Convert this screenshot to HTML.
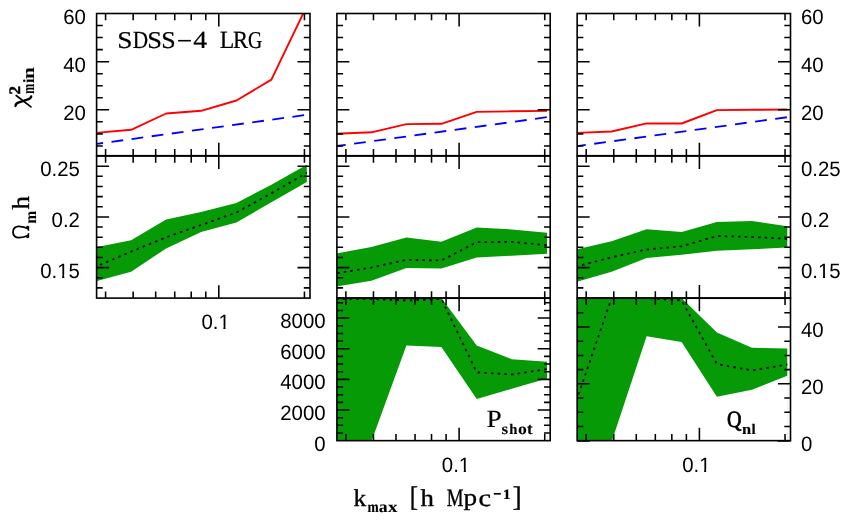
<!DOCTYPE html>
<html>
<head>
<meta charset="utf-8">
<title>SDSS-4 LRG</title>
<style>
html,body{margin:0;padding:0;background:#ffffff;}
body{width:845px;height:522px;overflow:hidden;font-family:"Liberation Sans",sans-serif;}
svg{display:block;will-change:transform;}
text{fill:#000;text-rendering:geometricPrecision;}
</style>
</head>
<body>
<svg width="845" height="522" viewBox="0 0 845 522">
<title>SDSS-4 LRG: chi-squared, Omega_m h, P_shot and Q_nl versus k_max</title>
<desc>3x3 panel figure. Rows: minimum chi-squared (red) with degrees of freedom (blue dashed); Omega_m h constraint band; P_shot and Q_nl constraint bands. x axis: k_max [h Mpc^-1].</desc>
<rect x="0" y="0" width="845" height="522" fill="#ffffff"/>
<defs>
<clipPath id="c00"><rect x="96.6" y="13.5" width="213.4" height="142.35"/></clipPath>
<clipPath id="c01"><rect x="96.6" y="155.85" width="213.4" height="142.25"/></clipPath>
<clipPath id="c02"><rect x="96.6" y="298.1" width="213.4" height="142.55"/></clipPath>
<clipPath id="c10"><rect x="336.9" y="13.5" width="213.3" height="142.35"/></clipPath>
<clipPath id="c11"><rect x="336.9" y="155.85" width="213.3" height="142.25"/></clipPath>
<clipPath id="c12"><rect x="336.9" y="298.1" width="213.3" height="142.55"/></clipPath>
<clipPath id="c20"><rect x="577.15" y="13.5" width="213.35" height="142.35"/></clipPath>
<clipPath id="c21"><rect x="577.15" y="155.85" width="213.35" height="142.25"/></clipPath>
<clipPath id="c22"><rect x="577.15" y="298.1" width="213.35" height="142.55"/></clipPath>
</defs>
<g clip-path="url(#c12)">
<polygon points="336.3,290 371.4,290 406.4,290 441.4,298 476.7,345.5 511.7,359.2 547.1,361.7 547.1,378.6 511.7,388.8 476.7,399 441.4,347 406.4,345.4 371.4,441.5 336.3,445" fill="#069a06"/>
<polyline points="336.3,299 371.4,298.9 406.4,300.5 441.4,299 476.7,372.3 511.7,374.5 547.1,369.1" fill="none" stroke="#000" stroke-width="1.8" stroke-dasharray="2.5 4.2" stroke-dashoffset="0.2"/>
</g>
<g clip-path="url(#c22)">
<polygon points="576.5,290 611.6,290 646.6,290 681.6,298 716.9,332.5 751.9,347.7 787.3,348.4 787.3,375.7 751.9,389.7 716.9,396.8 681.6,342 646.6,336.2 611.6,442 576.5,445" fill="#069a06"/>
<polyline points="576.5,400.5 611.6,298 646.6,298 681.6,300.5 716.9,364 751.9,370.5 787.3,364.5" fill="none" stroke="#000" stroke-width="1.8" stroke-dasharray="2.5 4.2" stroke-dashoffset="0.2"/>
</g>
<g clip-path="url(#c01)">
<polygon points="96,247.2 131.1,240.3 166.1,219.5 201.1,212 236.4,203 271.4,184.8 306.8,164.7 306.8,182 271.4,202.2 236.4,222.5 201.1,232 166.1,248.4 131.1,271.8 96,281.2" fill="#069a06"/>
<polyline points="96,266.6 131.1,251.6 166.1,237.3 201.1,225 236.4,212.5 271.4,193.4 306.8,172.8" fill="none" stroke="#000" stroke-width="1.8" stroke-dasharray="2.5 4.15" stroke-dashoffset="-4.2"/>
</g>
<g clip-path="url(#c11)">
<polygon points="336.3,253.5 371.4,247 406.4,237.5 441.4,241.8 476.7,227.4 511.7,229.4 547.1,232.7 547.1,253.7 511.7,255.7 476.7,257.6 441.4,268.4 406.4,268 371.4,280.8 336.3,286.5" fill="#069a06"/>
<polyline points="336.3,273.3 371.4,267.6 406.4,259.8 441.4,260.5 476.7,242.2 511.7,241.9 547.1,245.2" fill="none" stroke="#000" stroke-width="1.8" stroke-dasharray="2.5 4.15" stroke-dashoffset="-1.0"/>
</g>
<g clip-path="url(#c21)">
<polygon points="576.5,249.3 611.6,241.3 646.6,229.2 681.6,231.9 716.9,222 751.9,220.9 787.3,226.3 787.3,247.6 751.9,249.3 716.9,250.7 681.6,254.8 646.6,258 611.6,271.8 576.5,281.8" fill="#069a06"/>
<polyline points="576.5,266.5 611.6,257.3 646.6,249.5 681.6,246.3 716.9,236 751.9,237 787.3,238.8" fill="none" stroke="#000" stroke-width="1.8" stroke-dasharray="2.5 4.15" stroke-dashoffset="-5.65"/>
</g>
<line x1="307.3" y1="182" x2="307.3" y2="298.1" stroke="#069a06" stroke-width="0.5" opacity="0.2"/>
<line x1="547.6" y1="253.7" x2="547.6" y2="298.1" stroke="#069a06" stroke-width="0.5" opacity="0.2"/>
<line x1="787.8" y1="247.6" x2="787.8" y2="298.1" stroke="#069a06" stroke-width="0.5" opacity="0.2"/>
<line x1="547.6" y1="378.6" x2="547.6" y2="440.65" stroke="#069a06" stroke-width="0.5" opacity="0.2"/>
<line x1="787.8" y1="375.7" x2="787.8" y2="440.65" stroke="#069a06" stroke-width="0.5" opacity="0.2"/>
<g clip-path="url(#c00)">
<polyline points="96,132.9 131.1,129.8 166.1,113.5 201.1,110.8 236.4,100.5 271.4,79.6 306.8,6" fill="none" stroke="#ff0000" stroke-width="1.9" stroke-linejoin="round"/>
<line x1="96.9" y1="143.85" x2="307.2" y2="114.75" stroke="#0000ff" stroke-width="1.85" stroke-dasharray="11.8 8.5" stroke-dashoffset="5.6"/>
</g>
<g clip-path="url(#c10)">
<polyline points="336.3,133.8 371.4,132.3 406.4,124.1 441.4,123.8 476.7,111.9 511.7,111.3 547.1,110.9" fill="none" stroke="#ff0000" stroke-width="1.9" stroke-linejoin="round"/>
<line x1="337.2" y1="146" x2="547.5" y2="117.1" stroke="#0000ff" stroke-width="1.85" stroke-dasharray="11.8 8.5" stroke-dashoffset="3.25"/>
</g>
<g clip-path="url(#c20)">
<polyline points="576.5,132.9 611.6,131.5 646.6,123.4 681.6,123.5 716.9,110.1 751.9,109.8 787.3,109.5" fill="none" stroke="#ff0000" stroke-width="1.9" stroke-linejoin="round"/>
<line x1="577.4" y1="146.05" x2="787.7" y2="117.15" stroke="#0000ff" stroke-width="1.85" stroke-dasharray="11.8 8.5" stroke-dashoffset="3.35"/>
</g>
<path d="M105.59 13.5L105.59 20.15M105.59 155.7L105.59 149.05M133.16 13.5L133.16 20.15M133.16 155.7L133.16 149.05M155.68 13.5L155.68 20.15M155.68 155.7L155.68 149.05M174.73 13.5L174.73 20.15M174.73 155.7L174.73 149.05M191.23 13.5L191.23 20.15M191.23 155.7L191.23 149.05M205.78 13.5L205.78 20.15M205.78 155.7L205.78 149.05M304.44 13.5L304.44 20.15M304.44 155.7L304.44 149.05M218.8 13.5L218.8 26.45M218.8 155.7L218.8 142.75M96.6 145.91L102.8 145.91M310 145.91L303.8 145.91M96.6 133.88L102.8 133.88M310 133.88L303.8 133.88M96.6 121.84L102.8 121.84M310 121.84L303.8 121.84M96.6 109.8L109.1 109.8M310 109.8L297.5 109.8M96.6 97.76L102.8 97.76M310 97.76L303.8 97.76M96.6 85.73L102.8 85.73M310 85.73L303.8 85.73M96.6 73.69L102.8 73.69M310 73.69L303.8 73.69M96.6 61.65L109.1 61.65M310 61.65L297.5 61.65M96.6 49.61L102.8 49.61M310 49.61L303.8 49.61M96.6 37.58L102.8 37.58M310 37.58L303.8 37.58M96.6 25.54L102.8 25.54M310 25.54L303.8 25.54M105.59 156L105.59 162.65M105.59 298.1L105.59 291.45M133.16 156L133.16 162.65M133.16 298.1L133.16 291.45M155.68 156L155.68 162.65M155.68 298.1L155.68 291.45M174.73 156L174.73 162.65M174.73 298.1L174.73 291.45M191.23 156L191.23 162.65M191.23 298.1L191.23 291.45M205.78 156L205.78 162.65M205.78 298.1L205.78 291.45M304.44 156L304.44 162.65M304.44 298.1L304.44 291.45M218.8 156L218.8 168.95M218.8 298.1L218.8 285.15M96.6 287.88L102.8 287.88M310 287.88L303.8 287.88M96.6 277.74L102.8 277.74M310 277.74L303.8 277.74M96.6 267.6L109.1 267.6M310 267.6L297.5 267.6M96.6 257.46L102.8 257.46M310 257.46L303.8 257.46M96.6 247.32L102.8 247.32M310 247.32L303.8 247.32M96.6 237.18L102.8 237.18M310 237.18L303.8 237.18M96.6 227.04L102.8 227.04M310 227.04L303.8 227.04M96.6 216.9L109.1 216.9M310 216.9L297.5 216.9M96.6 206.76L102.8 206.76M310 206.76L303.8 206.76M96.6 196.62L102.8 196.62M310 196.62L303.8 196.62M96.6 186.48L102.8 186.48M310 186.48L303.8 186.48M96.6 176.34L102.8 176.34M310 176.34L303.8 176.34M96.6 166.2L109.1 166.2M310 166.2L297.5 166.2M345.89 13.5L345.89 20.15M345.89 155.7L345.89 149.05M373.46 13.5L373.46 20.15M373.46 155.7L373.46 149.05M395.98 13.5L395.98 20.15M395.98 155.7L395.98 149.05M415.03 13.5L415.03 20.15M415.03 155.7L415.03 149.05M431.53 13.5L431.53 20.15M431.53 155.7L431.53 149.05M446.08 13.5L446.08 20.15M446.08 155.7L446.08 149.05M544.74 13.5L544.74 20.15M544.74 155.7L544.74 149.05M459.1 13.5L459.1 26.45M459.1 155.7L459.1 142.75M336.9 145.91L343.1 145.91M550.2 145.91L544 145.91M336.9 133.88L343.1 133.88M550.2 133.88L544 133.88M336.9 121.84L343.1 121.84M550.2 121.84L544 121.84M336.9 109.8L349.4 109.8M550.2 109.8L537.7 109.8M336.9 97.76L343.1 97.76M550.2 97.76L544 97.76M336.9 85.73L343.1 85.73M550.2 85.73L544 85.73M336.9 73.69L343.1 73.69M550.2 73.69L544 73.69M336.9 61.65L349.4 61.65M550.2 61.65L537.7 61.65M336.9 49.61L343.1 49.61M550.2 49.61L544 49.61M336.9 37.58L343.1 37.58M550.2 37.58L544 37.58M336.9 25.54L343.1 25.54M550.2 25.54L544 25.54M345.89 156L345.89 162.65M345.89 297.95L345.89 291.3M373.46 156L373.46 162.65M373.46 297.95L373.46 291.3M395.98 156L395.98 162.65M395.98 297.95L395.98 291.3M415.03 156L415.03 162.65M415.03 297.95L415.03 291.3M431.53 156L431.53 162.65M431.53 297.95L431.53 291.3M446.08 156L446.08 162.65M446.08 297.95L446.08 291.3M544.74 156L544.74 162.65M544.74 297.95L544.74 291.3M459.1 156L459.1 168.95M459.1 297.95L459.1 285M336.9 287.88L343.1 287.88M550.2 287.88L544 287.88M336.9 277.74L343.1 277.74M550.2 277.74L544 277.74M336.9 267.6L349.4 267.6M550.2 267.6L537.7 267.6M336.9 257.46L343.1 257.46M550.2 257.46L544 257.46M336.9 247.32L343.1 247.32M550.2 247.32L544 247.32M336.9 237.18L343.1 237.18M550.2 237.18L544 237.18M336.9 227.04L343.1 227.04M550.2 227.04L544 227.04M336.9 216.9L349.4 216.9M550.2 216.9L537.7 216.9M336.9 206.76L343.1 206.76M550.2 206.76L544 206.76M336.9 196.62L343.1 196.62M550.2 196.62L544 196.62M336.9 186.48L343.1 186.48M550.2 186.48L544 186.48M336.9 176.34L343.1 176.34M550.2 176.34L544 176.34M336.9 166.2L349.4 166.2M550.2 166.2L537.7 166.2M345.89 298.25L345.89 304.9M345.89 440.65L345.89 434M373.46 298.25L373.46 304.9M373.46 440.65L373.46 434M395.98 298.25L395.98 304.9M395.98 440.65L395.98 434M415.03 298.25L415.03 304.9M415.03 440.65L415.03 434M431.53 298.25L431.53 304.9M431.53 440.65L431.53 434M446.08 298.25L446.08 304.9M446.08 440.65L446.08 434M544.74 298.25L544.74 304.9M544.74 440.65L544.74 434M459.1 298.25L459.1 311.2M459.1 440.65L459.1 427.7M336.9 432.99L343.1 432.99M550.2 432.99L544 432.99M336.9 425.33L343.1 425.33M550.2 425.33L544 425.33M336.9 417.67L343.1 417.67M550.2 417.67L544 417.67M336.9 410.01L349.4 410.01M550.2 410.01L537.7 410.01M336.9 402.35L343.1 402.35M550.2 402.35L544 402.35M336.9 394.69L343.1 394.69M550.2 394.69L544 394.69M336.9 387.03L343.1 387.03M550.2 387.03L544 387.03M336.9 379.37L349.4 379.37M550.2 379.37L537.7 379.37M336.9 371.71L343.1 371.71M550.2 371.71L544 371.71M336.9 364.05L343.1 364.05M550.2 364.05L544 364.05M336.9 356.39L343.1 356.39M550.2 356.39L544 356.39M336.9 348.73L349.4 348.73M550.2 348.73L537.7 348.73M336.9 341.07L343.1 341.07M550.2 341.07L544 341.07M336.9 333.41L343.1 333.41M550.2 333.41L544 333.41M336.9 325.75L343.1 325.75M550.2 325.75L544 325.75M336.9 318.09L349.4 318.09M550.2 318.09L537.7 318.09M336.9 310.43L343.1 310.43M550.2 310.43L544 310.43M336.9 302.77L343.1 302.77M550.2 302.77L544 302.77M586.19 13.5L586.19 20.15M586.19 155.7L586.19 149.05M613.76 13.5L613.76 20.15M613.76 155.7L613.76 149.05M636.28 13.5L636.28 20.15M636.28 155.7L636.28 149.05M655.33 13.5L655.33 20.15M655.33 155.7L655.33 149.05M671.83 13.5L671.83 20.15M671.83 155.7L671.83 149.05M686.38 13.5L686.38 20.15M686.38 155.7L686.38 149.05M785.04 13.5L785.04 20.15M785.04 155.7L785.04 149.05M699.4 13.5L699.4 26.45M699.4 155.7L699.4 142.75M577.15 145.91L583.35 145.91M790.5 145.91L784.3 145.91M577.15 133.88L583.35 133.88M790.5 133.88L784.3 133.88M577.15 121.84L583.35 121.84M790.5 121.84L784.3 121.84M577.15 109.8L589.65 109.8M790.5 109.8L778 109.8M577.15 97.76L583.35 97.76M790.5 97.76L784.3 97.76M577.15 85.73L583.35 85.73M790.5 85.73L784.3 85.73M577.15 73.69L583.35 73.69M790.5 73.69L784.3 73.69M577.15 61.65L589.65 61.65M790.5 61.65L778 61.65M577.15 49.61L583.35 49.61M790.5 49.61L784.3 49.61M577.15 37.58L583.35 37.58M790.5 37.58L784.3 37.58M577.15 25.54L583.35 25.54M790.5 25.54L784.3 25.54M586.19 156L586.19 162.65M586.19 297.95L586.19 291.3M613.76 156L613.76 162.65M613.76 297.95L613.76 291.3M636.28 156L636.28 162.65M636.28 297.95L636.28 291.3M655.33 156L655.33 162.65M655.33 297.95L655.33 291.3M671.83 156L671.83 162.65M671.83 297.95L671.83 291.3M686.38 156L686.38 162.65M686.38 297.95L686.38 291.3M785.04 156L785.04 162.65M785.04 297.95L785.04 291.3M699.4 156L699.4 168.95M699.4 297.95L699.4 285M577.15 287.88L583.35 287.88M790.5 287.88L784.3 287.88M577.15 277.74L583.35 277.74M790.5 277.74L784.3 277.74M577.15 267.6L589.65 267.6M790.5 267.6L778 267.6M577.15 257.46L583.35 257.46M790.5 257.46L784.3 257.46M577.15 247.32L583.35 247.32M790.5 247.32L784.3 247.32M577.15 237.18L583.35 237.18M790.5 237.18L784.3 237.18M577.15 227.04L583.35 227.04M790.5 227.04L784.3 227.04M577.15 216.9L589.65 216.9M790.5 216.9L778 216.9M577.15 206.76L583.35 206.76M790.5 206.76L784.3 206.76M577.15 196.62L583.35 196.62M790.5 196.62L784.3 196.62M577.15 186.48L583.35 186.48M790.5 186.48L784.3 186.48M577.15 176.34L583.35 176.34M790.5 176.34L784.3 176.34M577.15 166.2L589.65 166.2M790.5 166.2L778 166.2M586.19 298.25L586.19 304.9M586.19 440.65L586.19 434M613.76 298.25L613.76 304.9M613.76 440.65L613.76 434M636.28 298.25L636.28 304.9M636.28 440.65L636.28 434M655.33 298.25L655.33 304.9M655.33 440.65L655.33 434M671.83 298.25L671.83 304.9M671.83 440.65L671.83 434M686.38 298.25L686.38 304.9M686.38 440.65L686.38 434M785.04 298.25L785.04 304.9M785.04 440.65L785.04 434M699.4 298.25L699.4 311.2M699.4 440.65L699.4 427.7M577.15 426.44L583.35 426.44M790.5 426.44L784.3 426.44M577.15 412.24L583.35 412.24M790.5 412.24L784.3 412.24M577.15 398.03L583.35 398.03M790.5 398.03L784.3 398.03M577.15 383.83L589.65 383.83M790.5 383.83L778 383.83M577.15 369.62L583.35 369.62M790.5 369.62L784.3 369.62M577.15 355.42L583.35 355.42M790.5 355.42L784.3 355.42M577.15 341.21L583.35 341.21M790.5 341.21L784.3 341.21M577.15 327.01L589.65 327.01M790.5 327.01L778 327.01M577.15 312.8L583.35 312.8M790.5 312.8L784.3 312.8M577.15 441L590 441M790.5 441L777.65 441" fill="none" stroke="#000" stroke-width="1.55"/>
<rect x="96.6" y="13.5" width="213.4" height="142.2" fill="none" stroke="#000" stroke-width="1.6"/>
<rect x="96.6" y="156" width="213.4" height="142.1" fill="none" stroke="#000" stroke-width="1.6"/>
<rect x="336.9" y="13.5" width="213.3" height="142.2" fill="none" stroke="#000" stroke-width="1.6"/>
<rect x="336.9" y="156" width="213.3" height="141.95" fill="none" stroke="#000" stroke-width="1.6"/>
<rect x="336.9" y="298.25" width="213.3" height="142.4" fill="none" stroke="#000" stroke-width="1.6"/>
<rect x="577.15" y="13.5" width="213.35" height="142.2" fill="none" stroke="#000" stroke-width="1.6"/>
<rect x="577.15" y="156" width="213.35" height="141.95" fill="none" stroke="#000" stroke-width="1.6"/>
<rect x="577.15" y="298.25" width="213.35" height="142.4" fill="none" stroke="#000" stroke-width="1.6"/>
<text transform="translate(85.9,23.5) scale(1,1.024)" text-anchor="end" font-family="Liberation Sans, sans-serif" font-size="20.4">60</text>
<text transform="translate(801,23.5) scale(1,1.024)" text-anchor="start" font-family="Liberation Sans, sans-serif" font-size="20.4">60</text>
<text transform="translate(85.9,71.65) scale(1,1.024)" text-anchor="end" font-family="Liberation Sans, sans-serif" font-size="20.4">40</text>
<text transform="translate(801,71.65) scale(1,1.024)" text-anchor="start" font-family="Liberation Sans, sans-serif" font-size="20.4">40</text>
<text transform="translate(85.9,119.8) scale(1,1.024)" text-anchor="end" font-family="Liberation Sans, sans-serif" font-size="20.4">20</text>
<text transform="translate(801,119.8) scale(1,1.024)" text-anchor="start" font-family="Liberation Sans, sans-serif" font-size="20.4">20</text>
<text transform="translate(79.9,176.2) scale(1,1.024)" text-anchor="end" font-family="Liberation Sans, sans-serif" font-size="20.4">0.25</text>
<text transform="translate(801,176.2) scale(1,1.024)" text-anchor="start" font-family="Liberation Sans, sans-serif" font-size="20.4">0.25</text>
<text transform="translate(79.9,226.9) scale(1,1.024)" text-anchor="end" font-family="Liberation Sans, sans-serif" font-size="20.4">0.2</text>
<text transform="translate(801,226.9) scale(1,1.024)" text-anchor="start" font-family="Liberation Sans, sans-serif" font-size="20.4">0.2</text>
<text transform="translate(79.9,277.6) scale(1,1.024)" text-anchor="end" font-family="Liberation Sans, sans-serif" font-size="20.4">0.15</text>
<rect x="57.82" y="274.85" width="4.32" height="3.37" fill="#fff"/>
<rect x="64.31" y="274.85" width="4.08" height="3.37" fill="#fff"/>
<text transform="translate(801,277.6) scale(1,1.024)" text-anchor="start" font-family="Liberation Sans, sans-serif" font-size="20.4">0.15</text>
<rect x="818.63" y="274.85" width="4.32" height="3.37" fill="#fff"/>
<rect x="825.11" y="274.85" width="4.08" height="3.37" fill="#fff"/>
<text transform="translate(325.6,328.09) scale(1,1.024)" text-anchor="end" font-family="Liberation Sans, sans-serif" font-size="20.4">8000</text>
<text transform="translate(325.6,358.73) scale(1,1.024)" text-anchor="end" font-family="Liberation Sans, sans-serif" font-size="20.4">6000</text>
<text transform="translate(325.6,389.37) scale(1,1.024)" text-anchor="end" font-family="Liberation Sans, sans-serif" font-size="20.4">4000</text>
<text transform="translate(325.6,420.01) scale(1,1.024)" text-anchor="end" font-family="Liberation Sans, sans-serif" font-size="20.4">2000</text>
<text transform="translate(325.6,450.65) scale(1,1.024)" text-anchor="end" font-family="Liberation Sans, sans-serif" font-size="20.4">0</text>
<text transform="translate(801,337.01) scale(1,1.024)" text-anchor="start" font-family="Liberation Sans, sans-serif" font-size="20.4">40</text>
<text transform="translate(801,393.83) scale(1,1.024)" text-anchor="start" font-family="Liberation Sans, sans-serif" font-size="20.4">20</text>
<text transform="translate(801,450.65) scale(1,1.024)" text-anchor="start" font-family="Liberation Sans, sans-serif" font-size="20.4">0</text>
<text transform="translate(215.6,329.4) scale(1,1.024)" text-anchor="middle" font-family="Liberation Sans, sans-serif" font-size="20.4">0.1</text>
<rect x="219.05" y="326.65" width="4.32" height="3.37" fill="#fff"/>
<rect x="225.53" y="326.65" width="4.08" height="3.37" fill="#fff"/>
<text transform="translate(456,471.75) scale(1,1.024)" text-anchor="middle" font-family="Liberation Sans, sans-serif" font-size="20.4">0.1</text>
<rect x="459.45" y="469" width="4.32" height="3.37" fill="#fff"/>
<rect x="465.93" y="469" width="4.08" height="3.37" fill="#fff"/>
<text transform="translate(696.3,471.75) scale(1,1.024)" text-anchor="middle" font-family="Liberation Sans, sans-serif" font-size="20.4">0.1</text>
<rect x="699.75" y="469" width="4.32" height="3.37" fill="#fff"/>
<rect x="706.23" y="469" width="4.08" height="3.37" fill="#fff"/>
<text transform="translate(119.2,48.4) scale(1.1361,1)" x="-1.63" y="-0.24" font-family="Liberation Serif, serif" font-size="24.09" stroke="#000" stroke-width="0.22" stroke-linejoin="round">S</text>
<text transform="translate(133.4,48.4) scale(0.8675,1)" x="-0.68" y="-0.06" font-family="Liberation Serif, serif" font-size="24.64" stroke="#000" stroke-width="0.22" stroke-linejoin="round">D</text>
<text transform="translate(149.1,48.4) scale(1.0973,1)" x="-1.63" y="-0.24" font-family="Liberation Serif, serif" font-size="24.09" stroke="#000" stroke-width="0.22" stroke-linejoin="round">S</text>
<text transform="translate(162.9,48.4) scale(1.0779,1)" x="-1.63" y="-0.24" font-family="Liberation Serif, serif" font-size="24.09" stroke="#000" stroke-width="0.22" stroke-linejoin="round">S</text>
<text transform="translate(193.7,48.4) scale(1.1259,1)" x="-0.49" y="-0" font-family="Liberation Serif, serif" font-size="24.64" stroke="#000" stroke-width="0.22" stroke-linejoin="round">4</text>
<text transform="translate(220.3,48.4) scale(0.9595,1)" x="-0.68" y="-0" font-family="Liberation Serif, serif" font-size="24.73" stroke="#000" stroke-width="0.22" stroke-linejoin="round">L</text>
<text transform="translate(233.6,48.4) scale(0.9133,1)" x="-0.68" y="-0" font-family="Liberation Serif, serif" font-size="24.73" stroke="#000" stroke-width="0.22" stroke-linejoin="round">R</text>
<text transform="translate(248.9,48.4) scale(0.8175,1)" x="-0.96" y="-0.24" font-family="Liberation Serif, serif" font-size="24.09" stroke="#000" stroke-width="0.22" stroke-linejoin="round">G</text>
<path d="M178.1 40.7H190.9" stroke="#000" stroke-width="1.6" fill="none"/>
<text transform="translate(487.2,427) scale(1.1057,1)" x="-0.68" y="-0" font-family="Liberation Serif, serif" font-size="24.73" stroke="#000" stroke-width="0.1" stroke-linejoin="round">P</text>
<text transform="translate(502.1,433.8) scale(1.0890,1)" x="-0.47" y="-0.16" font-family="Liberation Serif, serif" font-size="15.62" font-weight="bold" stroke="#000" stroke-width="0.1" stroke-linejoin="round">s</text>
<text transform="translate(509.6,433.8) scale(1.0007,1)" x="-0.37" y="-0" font-family="Liberation Serif, serif" font-size="14.68" font-weight="bold" stroke="#000" stroke-width="0.1" stroke-linejoin="round">h</text>
<text transform="translate(518.6,433.9) scale(1.1146,1)" x="-0.59" y="-0.16" font-family="Liberation Serif, serif" font-size="15.83" font-weight="bold" stroke="#000" stroke-width="0.1" stroke-linejoin="round">o</text>
<text transform="translate(527.3,433.9) scale(1.0403,1)" x="-0.24" y="-0.16" font-family="Liberation Serif, serif" font-size="16.17" font-weight="bold" stroke="#000" stroke-width="0.1" stroke-linejoin="round">t</text>
<text transform="translate(727.8,430.5) scale(0.8614,1)" x="-0.94" y="-3.8" font-family="Liberation Serif, serif" font-size="23.39" stroke="#000" stroke-width="0.75" stroke-linejoin="round">Q</text>
<text transform="translate(742.5,433.6) scale(1.0926,1)" x="-0.42" y="-0" font-family="Liberation Serif, serif" font-size="15.11" font-weight="bold" stroke="#000" stroke-width="0.12" stroke-linejoin="round">n</text>
<text transform="translate(751.7,433.6) scale(1.0322,1)" x="-0.29" y="-0" font-family="Liberation Serif, serif" font-size="14.53" font-weight="bold" stroke="#000" stroke-width="0.12" stroke-linejoin="round">l</text>
<text transform="translate(354,505.9) scale(1.0515,1)" x="-0.48" y="-0" font-family="Liberation Serif, serif" font-size="24.17" stroke="#000" stroke-width="0.35" stroke-linejoin="round">k</text>
<text transform="translate(367.9,511.9) scale(0.8549,1)" x="-0.43" y="-0" font-family="Liberation Serif, serif" font-size="15.74" font-weight="bold" stroke="#000" stroke-width="0.12" stroke-linejoin="round">m</text>
<text transform="translate(379.3,512) scale(1.1166,1)" x="-0.51" y="-0.16" font-family="Liberation Serif, serif" font-size="15.83" font-weight="bold" stroke="#000" stroke-width="0.12" stroke-linejoin="round">a</text>
<text transform="translate(388.1,511.9) scale(1.1899,1)" x="-0.04" y="-0" font-family="Liberation Serif, serif" font-size="15.87" font-weight="bold" stroke="#000" stroke-width="0.12" stroke-linejoin="round">x</text>
<text transform="translate(411.6,509.9) scale(0.8731,1)" x="-2.12" y="-3.82" font-family="Liberation Serif, serif" font-size="28.31" stroke="#000" stroke-width="0.35" stroke-linejoin="round">[</text>
<text transform="translate(420.8,505.9) scale(1.1090,1)" x="-0.24" y="-0" font-family="Liberation Serif, serif" font-size="24.17" stroke="#000" stroke-width="0.35" stroke-linejoin="round">h</text>
<text transform="translate(447.2,505.9) scale(0.7532,1)" x="-0.69" y="-0" font-family="Liberation Serif, serif" font-size="25.04" stroke="#000" stroke-width="0.35" stroke-linejoin="round">M</text>
<text transform="translate(464,510.4) scale(1.1599,1)" x="-0.35" y="-4.98" font-family="Liberation Serif, serif" font-size="23.44" stroke="#000" stroke-width="0.35" stroke-linejoin="round">p</text>
<text transform="translate(479.6,506.1) scale(1.1498,1)" x="-0.92" y="-0.25" font-family="Liberation Serif, serif" font-size="24.58" stroke="#000" stroke-width="0.35" stroke-linejoin="round">c</text>
<path d="M493.8 493.8H500.8" stroke="#000" stroke-width="1.7" fill="none"/>
<text transform="translate(503.9,498.6) scale(1.1154,1)" x="-1.15" y="-0" font-family="Liberation Serif, serif" font-size="14.39" font-weight="bold" stroke="#000" stroke-width="0.12" stroke-linejoin="round">1</text>
<text transform="translate(513.5,509.9) scale(0.9732,1)" x="-0.99" y="-3.82" font-family="Liberation Serif, serif" font-size="28.31" stroke="#000" stroke-width="0.35" stroke-linejoin="round">]</text>
<path d="M16.2 95.5L30.9 106.9" stroke="#000" stroke-width="1.7" fill="none" stroke-linecap="round"/>
<path d="M15.5 106.0C15.5 104.2 16.6 103.2 18.2 102.6C21 101.6 25 100.6 28 99.4C29.8 98.7 31.1 98 31.2 96.4" stroke="#000" stroke-width="2.3" fill="none" stroke-linecap="round"/>
<text transform="translate(19.9,93.9) rotate(-90) scale(1.0693,1)" x="-0.68" y="-0" font-family="Liberation Serif, serif" font-size="16" font-weight="bold" stroke="#000" stroke-width="0.5" stroke-linejoin="round">2</text>
<text transform="translate(33.9,93.3) rotate(-90) scale(0.7013,1)" x="-0.47" y="-0" font-family="Liberation Serif, serif" font-size="17.02" font-weight="bold" stroke="#000" stroke-width="0.12" stroke-linejoin="round">m</text>
<text transform="translate(33.9,82.7) rotate(-90) scale(1.0004,1)" x="-0.36" y="-0" font-family="Liberation Serif, serif" font-size="15.83" font-weight="bold" stroke="#000" stroke-width="0.12" stroke-linejoin="round">i</text>
<text transform="translate(33.9,78.4) rotate(-90) scale(1.2434,1)" x="-0.47" y="-0" font-family="Liberation Serif, serif" font-size="17.02" font-weight="bold" stroke="#000" stroke-width="0.12" stroke-linejoin="round">n</text>
<path d="M28.4 228.8C26 227.6 22 226.5 19 226.3C15.5 226.1 13 228.5 13 232C13 235.5 15.5 237.9 19 237.7C22 237.5 26 236.4 28.4 235.2" stroke="#000" stroke-width="1.8" fill="none"/>
<path d="M28.4 226.2V230.7M28.4 233.3V237.8M28.4 226.6L26.4 226.9M28.4 237.4L26.4 237.1" stroke="#000" stroke-width="1.6" fill="none"/>
<text transform="translate(36.1,223.1) rotate(-90) scale(0.9224,1)" x="-0.45" y="-0" font-family="Liberation Serif, serif" font-size="16.38" font-weight="bold" stroke="#000" stroke-width="0.12" stroke-linejoin="round">m</text>
<text transform="translate(29.1,209.2) rotate(-90) scale(1.1045,1)" x="-0.24" y="-0" font-family="Liberation Serif, serif" font-size="24.46" stroke="#000" stroke-width="0.35" stroke-linejoin="round">h</text>
</svg>
</body>
</html>
